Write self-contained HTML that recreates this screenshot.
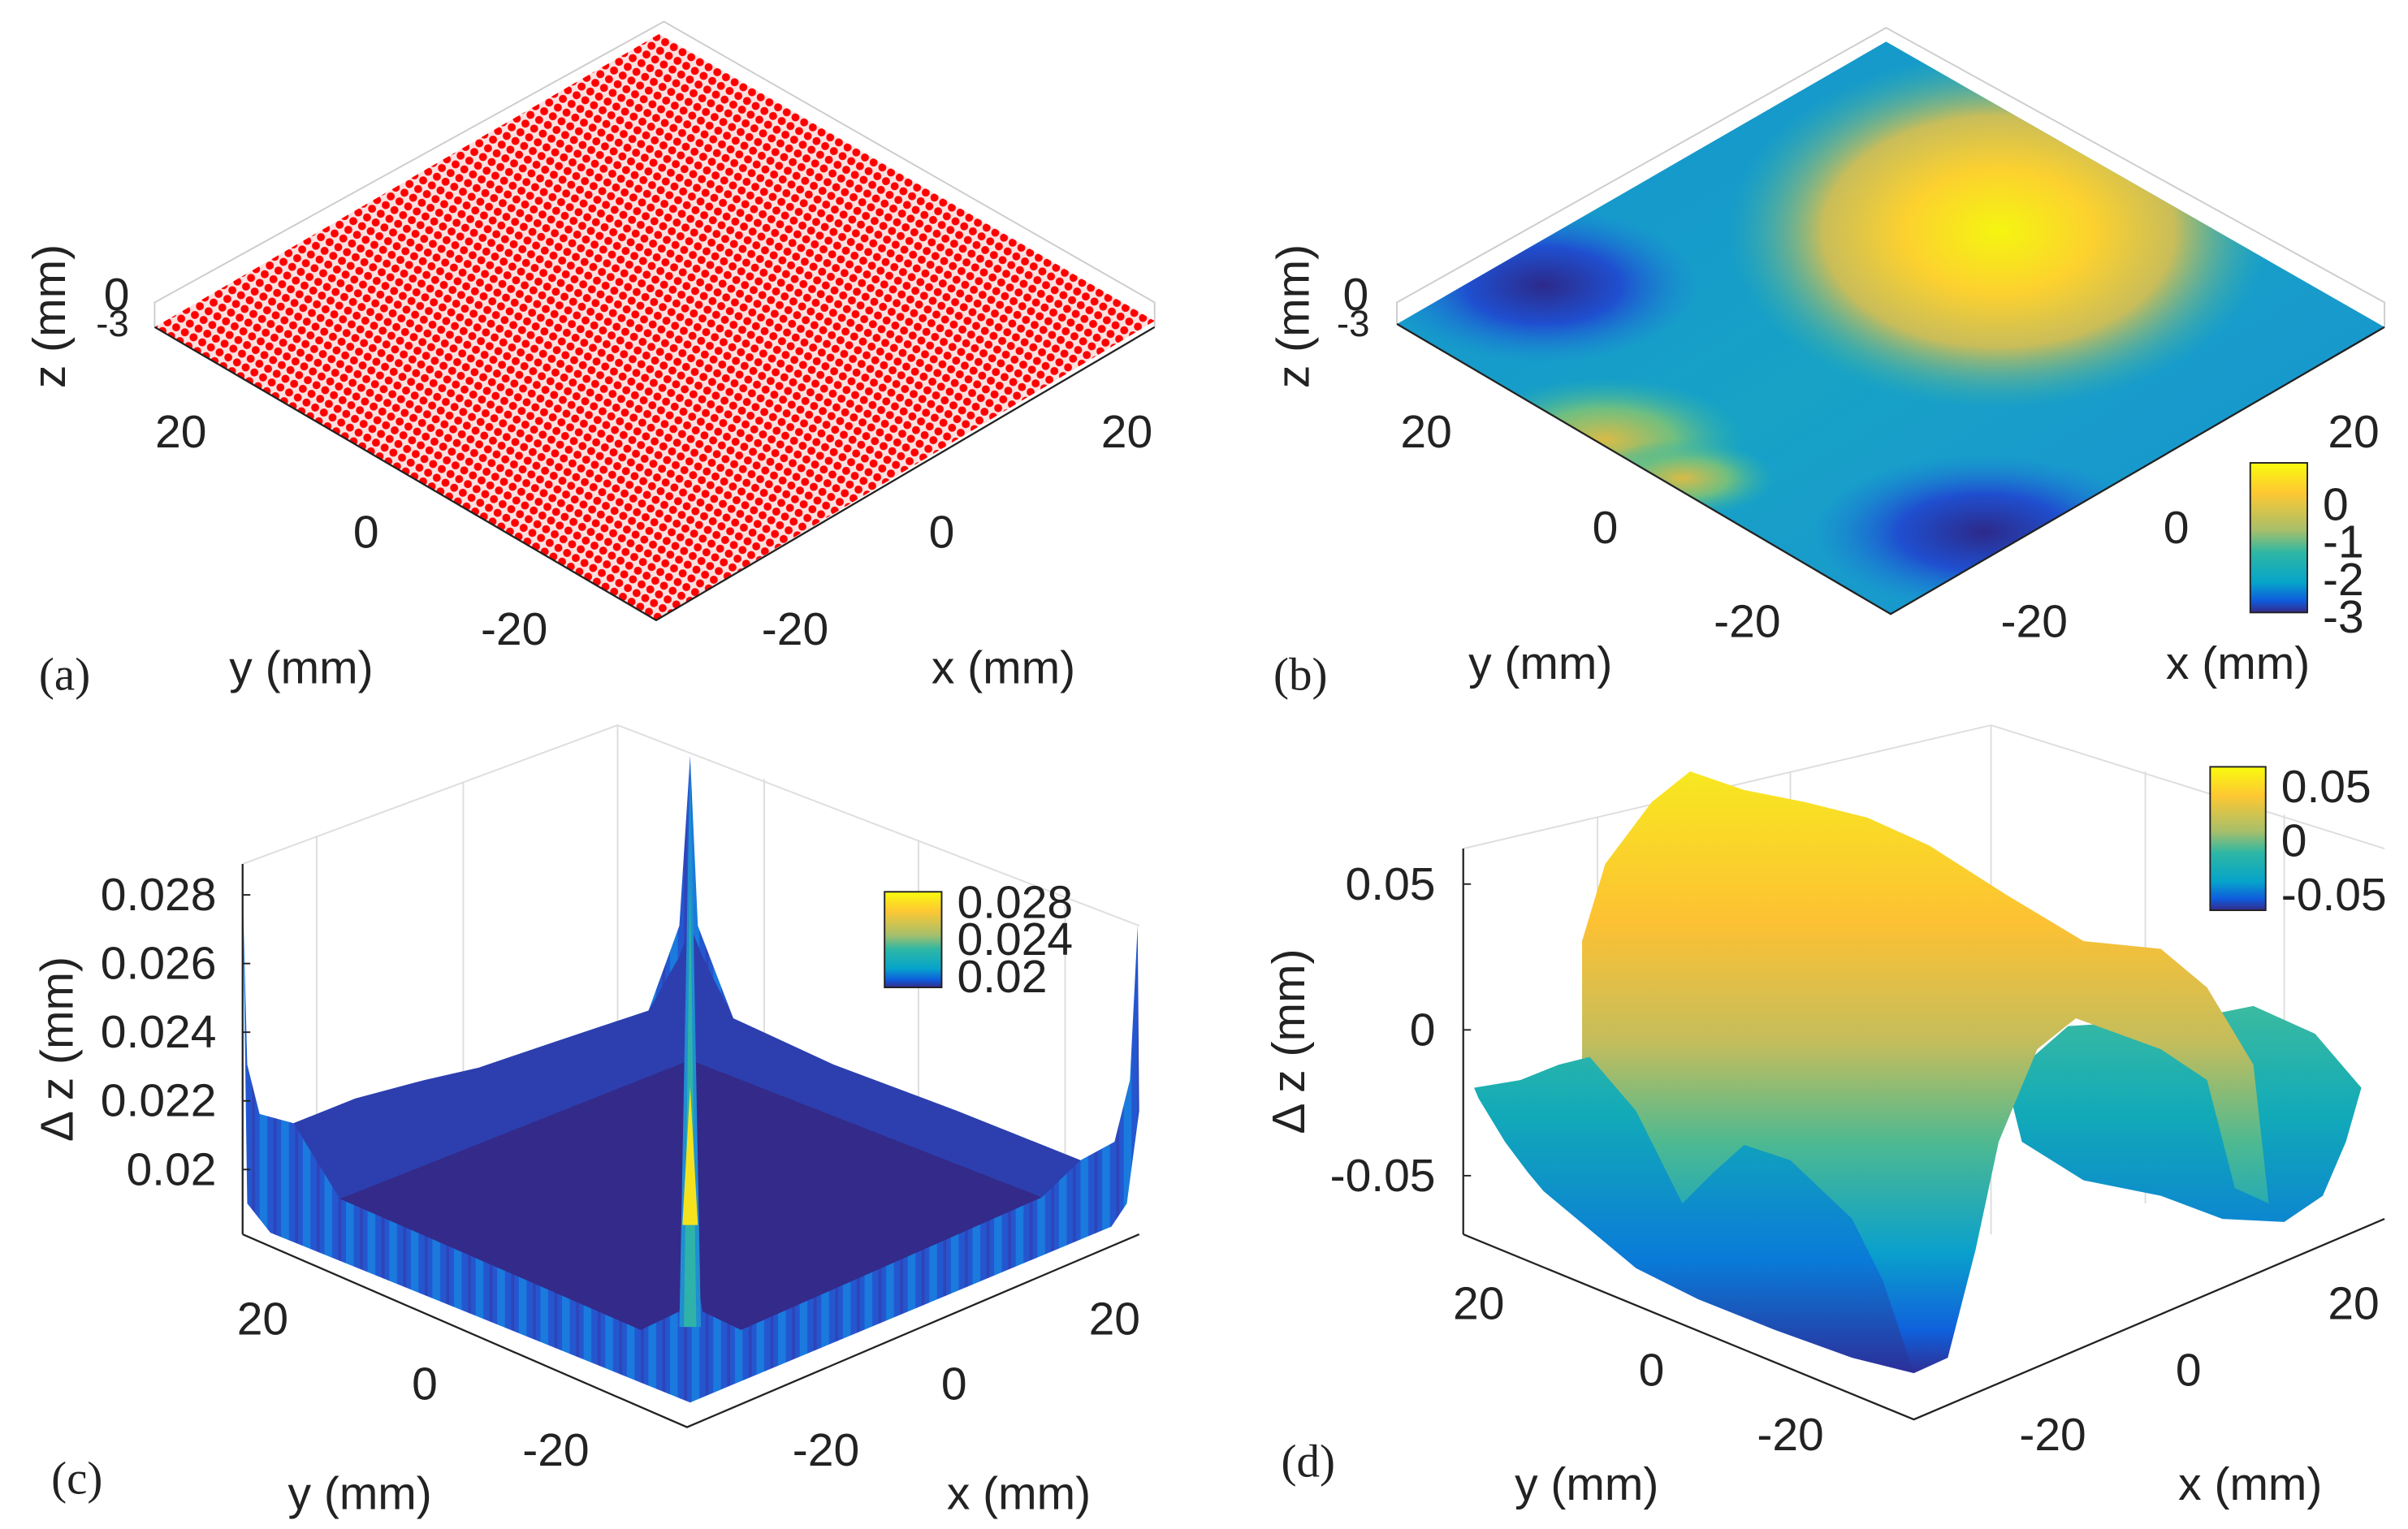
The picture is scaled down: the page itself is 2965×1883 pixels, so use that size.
<!DOCTYPE html>
<html><head><meta charset="utf-8"><style>
html,body{margin:0;padding:0;background:#fff}
svg{display:block}
text{font-family:"Liberation Sans Narrow","Liberation Sans",sans-serif;font-size:30px;fill:#222}
.ser{font-family:"Liberation Serif",serif;font-size:30px}
</style></head><body>
<svg id="fig" width="2965" height="1883" viewBox="0 0 1560 991" xmlns="http://www.w3.org/2000/svg">
<defs>
<pattern id="dots" width="6.5" height="6.5" patternUnits="userSpaceOnUse" patternTransform="rotate(30)">
<rect width="6.5" height="6.5" fill="#fbe0e0"/><circle cx="3.25" cy="3.25" r="2.6" fill="#f00"/></pattern>
<linearGradient id="bBase" x1="0" y1="0" x2="1" y2="1"><stop offset="0" stop-color="#1590d0"/><stop offset="0.5" stop-color="#17a2c6"/><stop offset="1" stop-color="#1a8fd4"/></linearGradient>
<radialGradient id="bYel"><stop offset="0" stop-color="#f5f510"/><stop offset="0.35" stop-color="#fcd12f"/><stop offset="0.65" stop-color="#c9bd5a"/><stop offset="1" stop-color="#40b79f" stop-opacity="0"/></radialGradient>
<radialGradient id="bDark"><stop offset="0" stop-color="#2c2a8a"/><stop offset="0.5" stop-color="#1f4fd0"/><stop offset="1" stop-color="#1a7bd8" stop-opacity="0"/></radialGradient>
<radialGradient id="bGreen"><stop offset="0" stop-color="#d8bb48"/><stop offset="0.5" stop-color="#70bf80"/><stop offset="1" stop-color="#30b5a8" stop-opacity="0"/></radialGradient>
<linearGradient id="parV" x1="0" y1="0" x2="0" y2="1"><stop offset="0" stop-color="#f9fb0e"/><stop offset="0.2" stop-color="#fec832"/><stop offset="0.45" stop-color="#a7bf6a"/><stop offset="0.6" stop-color="#2eb7a4"/><stop offset="0.8" stop-color="#06a4ca"/><stop offset="0.92" stop-color="#0f5cdd"/><stop offset="1" stop-color="#352a87"/></linearGradient>
<linearGradient id="ridge" x1="0" y1="500" x2="0" y2="890" gradientUnits="userSpaceOnUse"><stop offset="0" stop-color="#f7e820"/><stop offset="0.25" stop-color="#fdc133"/><stop offset="0.45" stop-color="#c4bd5c"/><stop offset="0.62" stop-color="#4cb992"/><stop offset="0.8" stop-color="#0aa0cc"/><stop offset="0.93" stop-color="#1060dc"/><stop offset="1" stop-color="#2f2f95"/></linearGradient>
<linearGradient id="wing" x1="0" y1="650" x2="0" y2="890" gradientUnits="userSpaceOnUse"><stop offset="0" stop-color="#3cbba0"/><stop offset="0.3" stop-color="#12aab8"/><stop offset="0.7" stop-color="#0a7ad8"/><stop offset="1" stop-color="#2c2f9a"/></linearGradient>
<linearGradient id="cWall" x1="0" y1="0" x2="0" y2="1"><stop offset="0" stop-color="#1a8fd8"/><stop offset="0.3" stop-color="#1d64d8"/><stop offset="1" stop-color="#2a50c8"/></linearGradient>
<pattern id="stripes" width="14" height="10" patternUnits="userSpaceOnUse"><rect width="14" height="10" fill="#2457cf"/><rect x="0" width="5" height="10" fill="#1a7ade"/><rect x="9" width="2" height="10" fill="#2e44b8"/></pattern>
</defs>

<!-- Panel a -->
<g>
<polyline points="100,212 100,196 430,14 748,196 748,212" fill="none" stroke="#ccc" stroke-width="1"/>
<polygon points="427,22 748,208 425,402 100,212" fill="url(#dots)"/>
<polyline points="100,212 425,402 748,212" fill="none" stroke="#222" stroke-width="1.2"/>
<text x="32" y="205" transform="rotate(-90 32 205)" text-anchor="middle" dy="10">z (mm)</text>
<text x="67" y="201">0</text><text x="62" y="218" style="font-size:24px">-3</text>
<text x="117" y="290" text-anchor="middle">20</text><text x="237" y="355" text-anchor="middle">0</text><text x="333" y="418" text-anchor="middle">-20</text>
<text x="515" y="418" text-anchor="middle">-20</text><text x="610" y="355" text-anchor="middle">0</text><text x="730" y="290" text-anchor="middle">20</text>
<text x="195" y="443" text-anchor="middle">y (mm)</text><text x="650" y="443" text-anchor="middle">x (mm)</text>
<text class="ser" x="25" y="447">(a)</text>
</g>

<!-- Panel b -->
<g>
<polyline points="905,210 905,196 1222,18 1545,196 1545,212" fill="none" stroke="#ccc"/>
<clipPath id="clipB"><polygon points="1222,27 1545,212 1225,398 905,210"/></clipPath>
<g clip-path="url(#clipB)">
<rect x="900" y="20" width="650" height="390" fill="url(#bBase)"/>
<ellipse cx="1040" cy="285" rx="90" ry="40" fill="url(#bGreen)"/>
<ellipse cx="1090" cy="310" rx="60" ry="25" fill="url(#bGreen)"/>
<ellipse cx="1295" cy="150" rx="175" ry="115" fill="url(#bYel)"/>
<ellipse cx="1000" cy="185" rx="100" ry="50" fill="url(#bDark)"/>
<ellipse cx="1285" cy="345" rx="110" ry="50" fill="url(#bDark)"/>
</g>
<polyline points="905,210 1225,398 1545,212" fill="none" stroke="#222" stroke-width="1.2"/>
<g><rect x="1458" y="300" width="37" height="97" fill="url(#parV)" stroke="#222"/></g>
<g id="cbTicksB"></g>
<text x="838" y="205" transform="rotate(-90 838 205)" text-anchor="middle" dy="10">z (mm)</text>
<text x="870" y="201">0</text><text x="866" y="218" style="font-size:24px">-3</text>
<text x="924" y="290" text-anchor="middle">20</text><text x="1040" y="352" text-anchor="middle">0</text><text x="1132" y="413" text-anchor="middle">-20</text>
<text x="1318" y="413" text-anchor="middle">-20</text><text x="1410" y="352" text-anchor="middle">0</text><text x="1525" y="290" text-anchor="middle">20</text>
<text x="998" y="440" text-anchor="middle">y (mm)</text><text x="1450" y="440" text-anchor="middle">x (mm)</text>
<text class="ser" x="825" y="447">(b)</text>
</g>

<!-- Panel c -->
<g>
<g stroke="#ddd" fill="none">
<polyline points="157,560 400,470 738,600"/><line x1="400" y1="470" x2="400" y2="700"/>
<line x1="205" y1="542" x2="205" y2="780"/><line x1="300" y1="507" x2="300" y2="740"/>
<line x1="495" y1="505" x2="495" y2="700"/><line x1="595" y1="545" x2="595" y2="740"/><line x1="690" y1="582" x2="690" y2="780"/>
</g>
<g>
<polygon points="157,575 160,690 168,722 190,728 230,712 275,700 310,692 360,675 420,655 440,600 447,490 452,600 475,660 540,690 620,720 700,752 722,740 732,700 737,600 738,720 730,780 720,795 447,909 175,799 160,780" fill="url(#stripes)"/>
<polygon points="190,728 230,712 275,700 310,692 360,675 420,655 440,620 447,600 455,620 475,660 540,690 620,720 700,752 675,776 447,687 220,777" fill="#2d3fae"/>
<polygon points="220,777 447,687 675,776 480,862 455,850 447,800 440,850 415,862" fill="#332a8a"/>
<polygon points="440,860 447,490 454,860" fill="#1f8fd0"/>
<polygon points="443,860 447,570 451,860" fill="#2fb3a8"/>
<polygon points="442,794 447,704 452,794" fill="#f5e21f"/>
</g>
<line x1="157" y1="560" x2="157" y2="800" stroke="#222" stroke-width="1.2"/>
<polyline points="157,800 445,925 738,800" fill="none" stroke="#222" stroke-width="1.2"/>
<g id="zTicksC"></g>
<rect x="573" y="578" width="37" height="62" fill="url(#parV)" stroke="#222"/>
<g id="cbTicksC"></g>
<text x="37" y="680" transform="rotate(-90 37 680)" text-anchor="middle" dy="10">Δ z (mm)</text>
<text x="170" y="865" text-anchor="middle">20</text><text x="275" y="907" text-anchor="middle">0</text><text x="360" y="950" text-anchor="middle">-20</text>
<text x="535" y="950" text-anchor="middle">-20</text><text x="618" y="907" text-anchor="middle">0</text><text x="722" y="865" text-anchor="middle">20</text>
<text x="233" y="978" text-anchor="middle">y (mm)</text><text x="660" y="978" text-anchor="middle">x (mm)</text>
<text class="ser" x="33" y="968">(c)</text>
</g>

<!-- Panel d -->
<g>
<g stroke="#ddd" fill="none">
<polyline points="948,550 1290,470 1545,550"/><line x1="1290" y1="470" x2="1290" y2="800"/>
<line x1="1035" y1="530" x2="1035" y2="800"/><line x1="1160" y1="500" x2="1160" y2="800"/>
<line x1="1390" y1="500" x2="1390" y2="780"/><line x1="1480" y1="528" x2="1480" y2="780"/>
</g>
<g>
<polygon id="wingR" points="1300,700 1340,665 1420,660 1460,652 1500,670 1530,705 1520,740 1505,775 1480,792 1440,790 1400,775 1350,765 1310,740" fill="url(#wing)"/>
<polygon id="ridgeD" points="1025,610 1040,560 1070,520 1095,500 1130,512 1170,520 1210,530 1250,548 1300,580 1350,610 1400,615 1430,640 1460,690 1470,780 1448,770 1430,700 1400,680 1345,660 1320,680 1295,740 1280,810 1262,880 1240,890 1200,860 1100,820 1040,790 1025,700" fill="url(#ridge)"/>
<polygon id="wingL" points="955,705 985,700 1010,690 1030,685 1060,720 1090,780 1110,760 1130,742 1160,752 1200,790 1220,830 1240,890 1200,880 1150,862 1100,842 1060,822 1000,772 990,760 975,740 958,712" fill="url(#wing)"/>
</g>
<line x1="948" y1="550" x2="948" y2="800" stroke="#222" stroke-width="1.2"/>
<polyline points="948,800 1240,920 1545,790" fill="none" stroke="#222" stroke-width="1.2"/>
<g id="zTicksD"></g>
<rect x="1432" y="497" width="36" height="93" fill="url(#parV)" stroke="#222"/>
<g id="cbTicksD"></g>
<text x="835" y="675" transform="rotate(-90 835 675)" text-anchor="middle" dy="10">Δ z (mm)</text>
<text x="958" y="855" text-anchor="middle">20</text><text x="1070" y="898" text-anchor="middle">0</text><text x="1160" y="940" text-anchor="middle">-20</text>
<text x="1330" y="940" text-anchor="middle">-20</text><text x="1418" y="898" text-anchor="middle">0</text><text x="1525" y="855" text-anchor="middle">20</text>
<text x="1028" y="972" text-anchor="middle">y (mm)</text><text x="1458" y="972" text-anchor="middle">x (mm)</text>
<text class="ser" x="830" y="957">(d)</text>
</g>
</svg>
<script>
const zTicksC = [0.02, 0.022, 0.024, 0.026, 0.028];
const zTicksCLabels = ["0.02", "0.022", "0.024", "0.026", "0.028"];
const cbC = [0.02, 0.024, 0.028];
const cbCLabels = ["0.02", "0.024", "0.028"];
const zTicksD = [-0.05, 0, 0.05];
const zTicksDLabels = ["-0.05", "0", "0.05"];
const cbD = [-0.05, 0, 0.05];
const cbDLabels = ["-0.05", "0", "0.05"];
const cbB = [-3, -2, -1, 0];
const cbBLabels = ["-3", "-2", "-1", "0"];
const NS = "http://www.w3.org/2000/svg";
function lin(d0, d1, r0, r1) { return v => r0 + (v - d0) / (d1 - d0) * (r1 - r0); }
function addTicks(gid, vals, labels, scale, x, anchor, tickX) {
  const g = document.getElementById(gid);
  vals.forEach((v, i) => {
    const y = scale(v);
    if (tickX !== null) {
      const l = document.createElementNS(NS, "line");
      
      
      l.setAttribute("x1", tickX); l.setAttribute("x2", tickX + 5);
      l.setAttribute("y1", y); l.setAttribute("y2", y);
      l.setAttribute("stroke", "#222");
      g.appendChild(l);
    }
    const t = document.createElementNS(NS, "text");
    
    
    t.setAttribute("x", x); t.setAttribute("y", y + 10);
    t.setAttribute("text-anchor", anchor);
    t.textContent = labels[i];
    g.appendChild(t);
  });
}
addTicks("zTicksC", zTicksC, zTicksCLabels, lin(0.02, 0.028, 758, 580), 140, "end", 157);
addTicks("cbTicksC", cbC, cbCLabels, lin(0.02, 0.028, 633, 585), 620, "start", null);
addTicks("zTicksD", zTicksD, zTicksDLabels, lin(-0.05, 0.05, 762, 573), 930, "end", 948);
addTicks("cbTicksD", cbD, cbDLabels, lin(-0.05, 0.05, 580, 510), 1478, "start", null);
addTicks("cbTicksB", cbB, cbBLabels, lin(-3, 0, 400, 327), 1505, "start", null);
</script>
</body></html>
